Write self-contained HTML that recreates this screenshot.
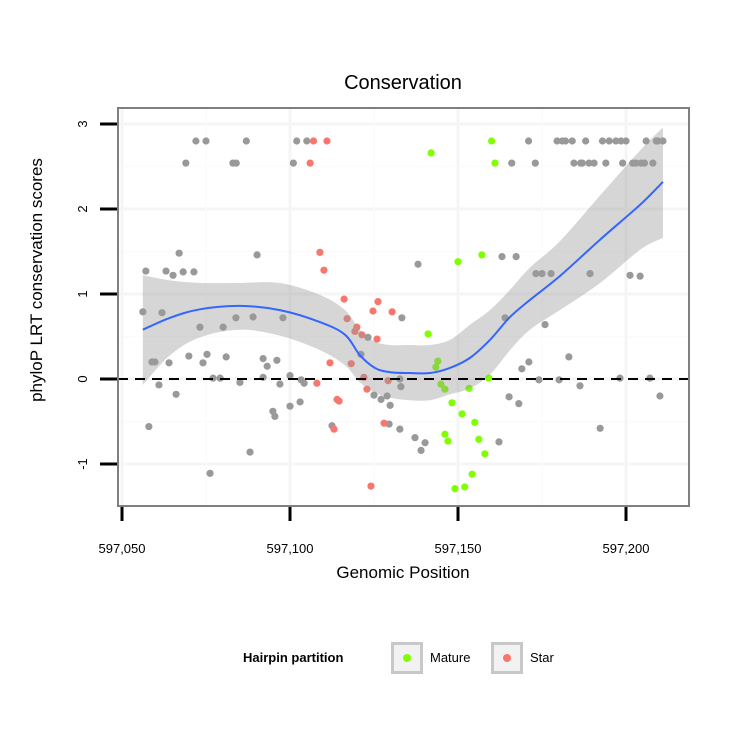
<!DOCTYPE html>
<html><head><meta charset="utf-8"><style>
body{margin:0;background:#fff;font-family:"Liberation Sans",sans-serif}
</style></head><body>
<svg id="c" width="750" height="750" xmlns="http://www.w3.org/2000/svg" font-family="Liberation Sans, sans-serif"></svg>
<script>
const xTicks=[597050,597100,597150,597200];
const xTickLabels=["597,050","597,100","597,150","597,200"];
const yTicks=[-1,0,1,2,3];
const greyX=[72,75,87,102,105,171,179.5,181,182,184,188,193,195,197,198.5,200,206,209,209.5,211,69,83,84,101,166,173,184.5,186.5,187,189,190.5,194,199,202,203,204.5,205.5,208,
57.1,63.1,65.2,68.2,71.4,67,90.2,56.2,61.9,73.2,80.1,83.9,89,97.9,75.3,58.9,59.8,64,69.9,74.1,81,77.1,79.2,85.1,92,93.2,96.1,92,100,97,103.3,104.2,61,66.1,58,100,94.9,95.5,88.1,76.2,103,112.5,129.5,121.1,132.7,133,138.1,163.1,167.3,173.2,175,177.7,189.3,201.2,204.2,133.3,164,175.9,171.1,169,183,174.1,180.1,198.2,207.1,165.2,168.1,186.3,210.1,132.7,137.2,139,140.2,162.2,192.3,123.2,125,127.1,128.9,129.8];
const greyY=[2.8,2.8,2.8,2.8,2.8,2.8,2.8,2.8,2.8,2.8,2.8,2.8,2.8,2.8,2.8,2.8,2.8,2.8,2.8,2.8,2.54,2.54,2.54,2.54,2.54,2.54,2.54,2.54,2.54,2.54,2.54,2.54,2.54,2.54,2.54,2.54,2.54,2.54,
1.27,1.27,1.22,1.26,1.26,1.48,1.46,0.79,0.78,0.61,0.61,0.72,0.73,0.72,0.29,0.2,0.2,0.19,0.27,0.19,0.26,0.01,0.01,-0.04,0.24,0.15,0.22,0.02,0.04,-0.06,-0.01,-0.05,-0.07,-0.18,-0.56,-0.32,-0.38,-0.44,-0.86,-1.11,-0.27,-0.55,-0.53,0.29,0,-0.09,1.35,1.44,1.44,1.24,1.24,1.24,1.24,1.22,1.21,0.72,0.72,0.64,0.2,0.12,0.26,-0.01,-0.01,0.01,0.01,-0.21,-0.29,-0.08,-0.2,-0.59,-0.69,-0.84,-0.75,-0.74,-0.58,0.49,-0.19,-0.24,-0.2,-0.31];
const starX=[107,111,106,108.9,110.1,116.1,117,119.3,119.9,121.4,126.2,124.7,130.4,125.9,111.9,118.2,122,108,122.9,114,114.6,113.1,128,124.1,129.2];
const starY=[2.8,2.8,2.54,1.49,1.28,0.94,0.71,0.56,0.61,0.52,0.91,0.8,0.79,0.47,0.19,0.18,0.02,-0.05,-0.12,-0.24,-0.26,-0.59,-0.52,-1.26,-0.02];
const matureX=[160,161,142,141.1,144,143.4,144.9,146.1,150,157.1,148.2,151.2,155,146.1,147,156.2,158,154.2,152,149.1,153.3,159.2];
const matureY=[2.8,2.54,2.66,0.53,0.21,0.14,-0.06,-0.12,1.38,1.46,-0.28,-0.41,-0.51,-0.65,-0.73,-0.71,-0.88,-1.12,-1.27,-1.29,-0.11,0.01];
const smoothX=[56.2,64.3,73.2,85.1,97,108.9,116.4,120.8,125.3,129.8,135.7,141.7,147.6,153.6,159.5,165.5,171.4,180.3,192.3,204.2,211];
const smoothY=[0.58,0.72,0.82,0.86,0.81,0.67,0.52,0.28,0.13,0.08,0.07,0.07,0.13,0.25,0.46,0.73,0.93,1.21,1.64,2.05,2.32];
const bandHi=[1.22,1.16,1.13,1.13,1.13,0.99,0.81,0.58,0.44,0.4,0.4,0.4,0.46,0.64,0.81,1.05,1.31,1.62,2.16,2.69,2.96];
const bandLo=[-0.07,0.28,0.49,0.58,0.51,0.34,0.16,-0.04,-0.16,-0.22,-0.25,-0.25,-0.18,-0.11,0.05,0.34,0.58,0.81,1.13,1.52,1.66];

const NS="http://www.w3.org/2000/svg",svg=document.getElementById('c');
const X=v=>122+(v-597050)*3.36, Y=v=>379-v*85;
const XO=d=>X(597000+d);
function mk(t,a,p){const e=document.createElementNS(NS,t);for(const k in a)e.setAttribute(k,a[k]);(p||svg).appendChild(e);return e;}
function spline(P){let s='';for(let i=0;i<P.length-1;i++){const p0=P[Math.max(0,i-1)],p1=P[i],p2=P[i+1],p3=P[Math.min(P.length-1,i+2)];
const c1=[p1[0]+(p2[0]-p0[0])/6,p1[1]+(p2[1]-p0[1])/6],c2=[p2[0]-(p3[0]-p1[0])/6,p2[1]-(p3[1]-p1[1])/6];
s+=`C${c1[0]},${c1[1]} ${c2[0]},${c2[1]} ${p2[0]},${p2[1]}`;}return s;}
const grid=mk('g',{});


[-0.5,0.5,1.5,2.5].forEach(v=>mk('line',{x1:118,x2:689,y1:Y(v),y2:Y(v),stroke:'#fbfbfb','stroke-width':1.5},grid));
yTicks.forEach(v=>mk('line',{x1:118,x2:689,y1:Y(v),y2:Y(v),stroke:'#f5f5f5','stroke-width':3},grid));
[597075,597125,597175].forEach(v=>mk('line',{y1:108,y2:506,x1:X(v),x2:X(v),stroke:'#fbfbfb','stroke-width':1.5},grid));
xTicks.forEach(v=>mk('line',{y1:108,y2:506,x1:X(v),x2:X(v),stroke:'#f5f5f5','stroke-width':3},grid));
function pts(xs,ys,col,name){const g=mk('g',{});


xs.forEach((x,i)=>{const c=mk('circle',{cx:XO(x),cy:Y(ys[i]),r:3.6,fill:col},g);

});}
pts(greyX,greyY,'#999999','other-points');
pts(starX,starY,'#f8766d','star-points');
pts(matureX,matureY,'#7fff00','mature-points');
const hi=smoothX.map((x,i)=>[XO(x),Y(bandHi[i])]);
const lo=smoothX.map((x,i)=>[XO(x),Y(bandLo[i])]).reverse();
const d='M'+hi[0].join(',')+spline(hi)+'L'+lo[0].join(',')+spline(lo)+'Z';
const band=mk('path',{d:d,fill:'#999','fill-opacity':0.4});


const cp=smoothX.map((x,i)=>[XO(x),Y(smoothY[i])]);
const ln=mk('path',{d:'M'+cp[0].join(',')+spline(cp),fill:'none',stroke:'#3366ff','stroke-width':2});


const zl=mk('line',{x1:118,x2:689,y1:Y(0),y2:Y(0),stroke:'#000','stroke-width':2,'stroke-dasharray':'10,7'});


const fr=mk('rect',{x:118,y:108,width:571,height:398,fill:'none',stroke:'#7f7f7f','stroke-width':2});


yTicks.forEach(v=>{mk('line',{x1:100,x2:117,y1:Y(v),y2:Y(v),stroke:'#000','stroke-width':3});
const t=mk('text',{x:0,y:0,'font-size':13,'text-anchor':'middle',transform:`translate(87,${Y(v)}) rotate(-90)`});t.textContent=v;

});
xTicks.forEach((v,i)=>{mk('line',{y1:507,y2:521,x1:X(v),x2:X(v),stroke:'#000','stroke-width':3});
const t=mk('text',{x:X(v),y:553,'font-size':13,'text-anchor':'middle'});t.textContent=xTickLabels[i];

});
</script>
<div style="position:absolute;left:0;top:0;width:750px;height:750px;pointer-events:none;font-family:'Liberation Sans',sans-serif">
<div style="position:absolute;left:0;width:806px;top:72px;text-align:center;font-size:20px">Conservation</div>
<div style="position:absolute;left:0;width:806px;top:563px;text-align:center;font-size:17px">Genomic Position</div>
<div style="position:absolute;left:-163px;top:270px;width:400px;text-align:center;font-size:17px;transform:rotate(-90deg)">phyloP LRT conservation scores</div>
<div style="position:absolute;top:642px;left:243px;height:32px;font-size:13px">
<span style="position:absolute;left:0;top:8px;font-weight:bold;white-space:nowrap">Hairpin partition</span>
<span style="position:absolute;left:148px;top:0;width:26px;height:26px;border:3px solid #c8c8c8;background:#f2f2f2"><span style="position:absolute;left:9px;top:9px;width:8px;height:8px;border-radius:50%;background:#7fff00"></span></span>
<span style="position:absolute;left:187px;top:8px">Mature</span>
<span style="position:absolute;left:248px;top:0;width:26px;height:26px;border:3px solid #c8c8c8;background:#f2f2f2"><span style="position:absolute;left:9px;top:9px;width:8px;height:8px;border-radius:50%;background:#f8766d"></span></span>
<span style="position:absolute;left:287px;top:8px">Star</span>
</div></div>
</body></html>
